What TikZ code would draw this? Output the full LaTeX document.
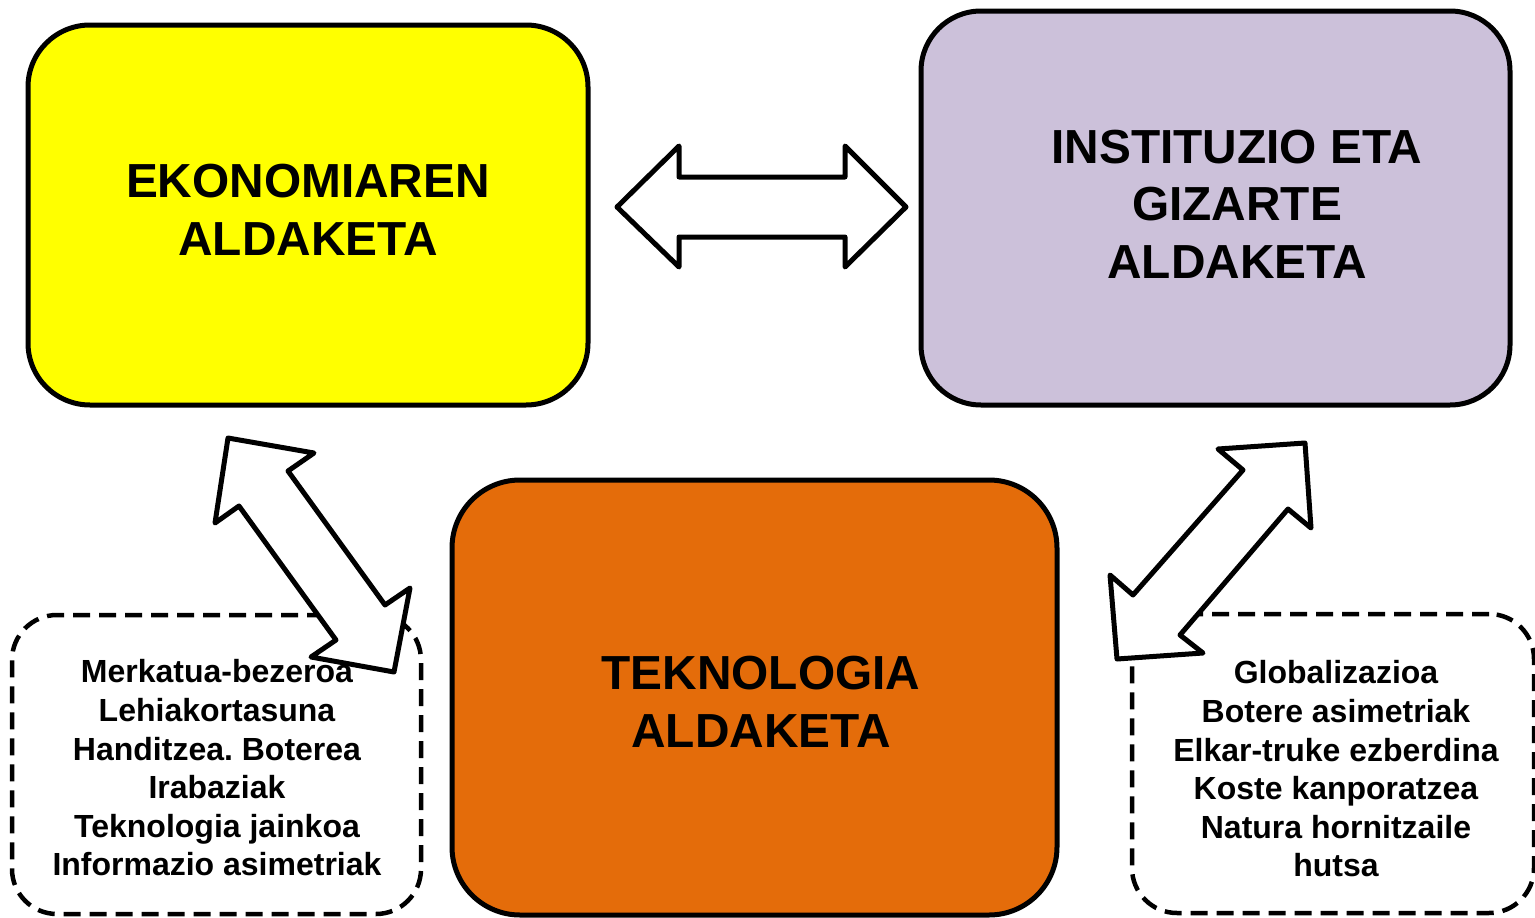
\documentclass[tikz,border=0pt]{standalone}
\usepackage{fontspec}
\setmainfont{Liberation Sans}
\frenchspacing
\definecolor{ekoyellow}{HTML}{FFFF00}
\definecolor{instlav}{HTML}{CCC1DA}
\definecolor{teknorange}{HTML}{E46C0A}
\begin{document}
\begin{tikzpicture}[x=1pt,y=-1pt,
  bigbox/.style={draw=black,line width=5pt,rounded corners=62pt,inner sep=0pt},
  bigtext/.style={font=\bfseries\fontsize{47.8}{57.5}\selectfont,align=center,inner sep=0pt},
  smalltext/.style={font=\bfseries\fontsize{32}{38.6}\selectfont,align=center,inner sep=0pt},
  dbox/.style={draw=black,line width=4.5pt,dash pattern=on 17pt off 9pt,rounded corners=45pt,fill=white,inner sep=0pt},
  fatarrow/.style={draw=black,line width=5pt,fill=white,line join=round}]
\useasboundingbox (0,0) rectangle (1535,918);

% main boxes
\node[bigbox,fill=ekoyellow,minimum width=560pt,minimum height=380pt] (eko) at (308,215) {};
\node[bigbox,fill=instlav,minimum width=589pt,minimum height=394pt,rounded corners=60pt] (inst) at (1215.5,208) {};
\node[bigbox,fill=teknorange,minimum width=605pt,minimum height=435pt,rounded corners=68pt] (tekn) at (754.5,697.5) {};

\node[bigtext] (ekot) at (308,210) {EKONOMIAREN\\ALDAKETA};
\node[bigtext] (instt) at (1237,204) {INSTITUZIO ETA\\GIZARTE\\ALDAKETA};
\node[bigtext] (teknt) at (761,702) {TEKNOLOGIA\\ALDAKETA};

% dashed boxes
\node[dbox,minimum width=409pt,minimum height=299pt] (left) at (216.5,764.5) {};
\node[dbox,minimum width=402pt,minimum height=299pt] (right) at (1333,763.5) {};

\node[smalltext] (leftt) at (217,768) {Merkatua-bezeroa\\Lehiakortasuna\\Handitzea. Boterea\\Irabaziak\\Teknologia jainkoa\\Informazio asimetriak};
\node[smalltext] (rightt) at (1336,769) {Globalizazioa\\Botere asimetriak\\Elkar-truke ezberdina\\Koste kanporatzea\\Natura hornitzaile\\hutsa};

% block arrows
\draw[fatarrow] (617,207) -- (679,146) -- (679,177) -- (845,177) -- (845,146) -- (906,207)
  -- (845,267) -- (845,237) -- (679,237) -- (679,267) -- cycle;
\draw[fatarrow] (228,438) -- (314,453) -- (288,471) -- (385,605) -- (410,588) -- (394,672)
  -- (311,657) -- (336,640) -- (239,506) -- (215,523) -- cycle;
\draw[fatarrow] (1305,443) -- (1311,528) -- (1288,509) -- (1180,635) -- (1203,653) -- (1117,659)
  -- (1110,575) -- (1133,595) -- (1243,470) -- (1218,449) -- cycle;
\end{tikzpicture}
\end{document}
